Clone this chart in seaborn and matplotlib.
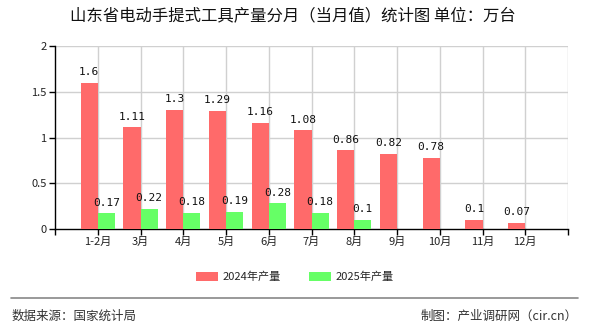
import numpy as np
import pandas as pd
import matplotlib
matplotlib.use("Agg")
import matplotlib.pyplot as plt
import seaborn as sns
from matplotlib.patches import Patch
from matplotlib.lines import Line2D

months = ["1-2月", "3月", "4月", "5月", "6月", "7月", "8月", "9月", "10月", "11月", "12月"]
vals_2024 = [1.6, 1.11, 1.3, 1.29, 1.16, 1.08, 0.86, 0.82, 0.78, 0.1, 0.07]
vals_2025 = [0.17, 0.22, 0.18, 0.19, 0.28, 0.18, 0.1, np.nan, np.nan, np.nan, np.nan]
series = ["2024年产量", "2025年产量"]
colors = ["#FF6A6A", "#66FF66"]

df = pd.DataFrame({
    "month": months * 2,
    "value": vals_2024 + vals_2025,
    "series": [series[0]] * len(months) + [series[1]] * len(months),
}).dropna()

sns.set_theme(style="white")
plt.rcParams["font.family"] = ["Noto Sans CJK SC", "DejaVu Sans"]

fig = plt.figure(figsize=(5.9, 3.3), dpi=100)
ax = fig.add_axes([55 / 590, 1 - 229 / 330, (568 - 55) / 590, (229 - 46) / 330])

sns.barplot(data=df, x="month", y="value", hue="series", order=months,
            hue_order=series, palette=colors, width=0.8, saturation=1,
            linewidth=0, edgecolor="none", ax=ax, legend=False, zorder=3)

for patch in ax.patches:
    h = patch.get_height()
    if h is None or np.isnan(h) or h <= 0:
        continue
    ax.annotate(f"{h:g}", (patch.get_x() + patch.get_width() / 2, h),
                xytext=(0, 4), textcoords="offset points", ha="center", va="bottom",
                fontsize=8, color="#111111", family=["DejaVu Sans Mono"])

ax.set_xlim(-1, len(months))
ax.set_ylim(0, 2)
ax.set_yticks([0, 0.5, 1, 1.5, 2])
ax.set_yticklabels(["0", "0.5", "1", "1.5", "2"], fontsize=8, color="#222222")
ax.set_xticks(range(len(months)))
ax.set_xticklabels(months, fontsize=8, color="#222222")
ax.set_xticks(list(range(-1, len(months) + 1)), minor=True)
ax.tick_params(axis="x", which="minor", length=4, width=1, color="black", direction="out", bottom=True)
ax.tick_params(axis="x", which="major", length=4, width=1, color="black", direction="out", pad=2, bottom=True)
ax.tick_params(axis="y", length=4, width=1, color="black", direction="out", pad=2, left=True)
ax.set_xlabel("")
ax.set_ylabel("")

for x in range(0, len(months) + 1):
    ax.axvline(x, color="#d0d0d0", lw=1, zorder=0)
for y in [0.5, 1, 1.5, 2]:
    ax.axhline(y, color="#d0d0d0", lw=1, zorder=0)

for s in ["top", "right"]:
    ax.spines[s].set_visible(False)
for s in ["left", "bottom"]:
    ax.spines[s].set_color("black")
    ax.spines[s].set_linewidth(1)

fig.text(293 / 590, 1 - 16 / 330, "山东省电动手提式工具产量分月（当月值）统计图 单位：万台",
         ha="center", va="center", fontsize=11.8, color="#111111")

handles = [Patch(facecolor=c, edgecolor="none") for c in colors]
fig.legend(handles, series, loc="center", bbox_to_anchor=(0.5, 1 - 277 / 330),
           ncol=2, frameon=False, fontsize=8, handlelength=2.0, handleheight=0.9,
           columnspacing=2.5, handletextpad=0.4)

fig.add_artist(Line2D([11 / 590, 578 / 590], [1 - 298 / 330, 1 - 298 / 330],
                      color="#888888", lw=1.2))
fig.text(12 / 590, 1 - 316 / 330, "数据来源：国家统计局", ha="left", va="center",
         fontsize=9, color="#333333")
fig.text(578 / 590, 1 - 316 / 330, "制图：产业调研网（cir.cn）", ha="right", va="center",
         fontsize=9, color="#333333")

fig.savefig("out.png", dpi=100)
